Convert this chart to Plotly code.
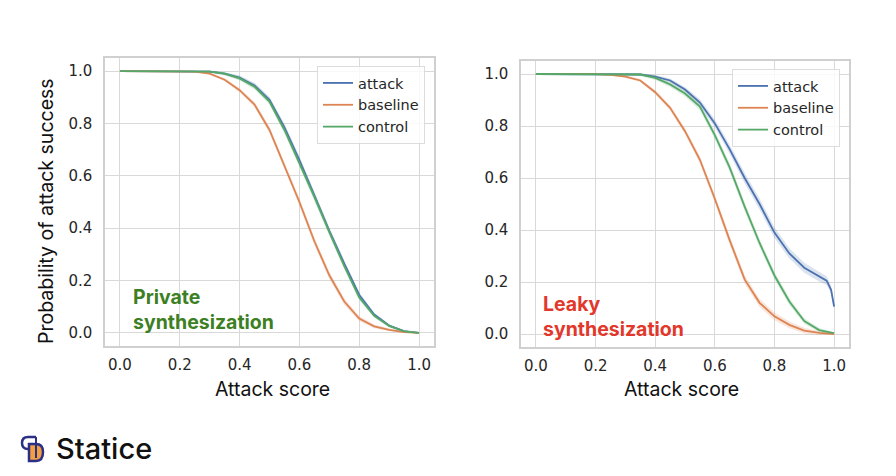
import plotly.graph_objects as go

# the page body keeps an 8px margin, so the figure is drawn 16px smaller
W, H = 896, 476
PAD = 8
FIG_W, FIG_H = W - 2 * PAD, H - 2 * PAD

# attack score thresholds
score = [0.0, 0.05, 0.1, 0.15, 0.2, 0.25, 0.3, 0.35, 0.4, 0.45, 0.5,
         0.55, 0.6, 0.65, 0.7, 0.75, 0.8, 0.85, 0.9, 0.95, 1.0]
score_tail = [0.0, 0.05, 0.1, 0.15, 0.2, 0.25, 0.3, 0.35, 0.4, 0.45, 0.5,
              0.55, 0.6, 0.65, 0.7, 0.75, 0.8, 0.85, 0.9, 0.95, 0.975, 0.99, 1.0]

# private synthesization
attack_private = [1.0, 1.0, 1.0, 1.0, 1.0, 1.0, 0.998, 0.99, 0.975, 0.945, 0.89,
                  0.785, 0.66, 0.525, 0.39, 0.265, 0.145, 0.07, 0.028, 0.007, 0.0]
baseline_private = [1.0, 1.0, 1.0, 1.0, 1.0, 0.998, 0.99, 0.967, 0.927, 0.872, 0.775,
                    0.64, 0.5, 0.35, 0.22, 0.12, 0.055, 0.025, 0.012, 0.003, 0.0]
control_private = [1.0, 1.0, 1.0, 1.0, 1.0, 1.0, 0.998, 0.99, 0.972, 0.94, 0.883,
                   0.775, 0.65, 0.52, 0.385, 0.255, 0.135, 0.065, 0.027, 0.006, 0.0]

# leaky synthesization
attack_leaky = [1.0, 1.0, 1.0, 1.0, 1.0, 1.0, 1.0, 0.998, 0.99, 0.975, 0.94,
                0.89, 0.81, 0.71, 0.6, 0.5, 0.39, 0.31, 0.255, 0.22, 0.205, 0.17, 0.105]
baseline_leaky = [1.0, 1.0, 1.0, 1.0, 1.0, 0.997, 0.99, 0.975, 0.93, 0.87, 0.78,
                  0.67, 0.52, 0.36, 0.21, 0.12, 0.068, 0.035, 0.013, 0.004, 0.0]
control_leaky = [1.0, 1.0, 1.0, 1.0, 1.0, 1.0, 1.0, 0.998, 0.985, 0.96, 0.925,
                 0.875, 0.765, 0.64, 0.49, 0.35, 0.225, 0.125, 0.05, 0.015, 0.003]

# confidence band half-widths
band_private = [0, 0, 0, 0, 0, 0.002, 0.004, 0.006, 0.008, 0.01, 0.012,
                0.014, 0.015, 0.015, 0.014, 0.012, 0.01, 0.007, 0.005, 0.003, 0]
band_leaky = [0, 0, 0, 0, 0, 0.002, 0.004, 0.006, 0.008, 0.01, 0.012,
              0.014, 0.016, 0.017, 0.017, 0.016, 0.015, 0.013, 0.011, 0.008, 0.003]
band_leaky_attack = [0, 0, 0, 0, 0, 0, 0.002, 0.004, 0.006, 0.008, 0.01,
                     0.013, 0.016, 0.018, 0.02, 0.021, 0.021, 0.02, 0.019, 0.018,
                     0.017, 0.015, 0.01]

BLUE, ORANGE, GREEN = "#4c72b0", "#dd8452", "#55a868"
FILLS = {BLUE: "rgba(76,114,176,0.2)", ORANGE: "rgba(221,132,82,0.2)",
         GREEN: "rgba(85,168,104,0.2)"}


def px_x(v):
    return (v - PAD) / FIG_W


def px_y(v):
    return 1 - (v - PAD) / FIG_H


fig = go.Figure()


def add_series(x, y, band, name, color, xa, ya, legend):
    upper = [a + b for a, b in zip(y, band)]
    lower = [a - b for a, b in zip(y, band)]
    fig.add_trace(go.Scatter(x=x + x[::-1], y=upper + lower[::-1], fill="toself",
                             fillcolor=FILLS[color], line=dict(width=0),
                             showlegend=False, hoverinfo="skip", xaxis=xa, yaxis=ya))
    fig.add_trace(go.Scatter(x=x, y=y, mode="lines", name=name,
                             line=dict(color=color, width=1.8),
                             xaxis=xa, yaxis=ya, legend=legend))


add_series(score, attack_private, band_private, "attack", BLUE, "x", "y", "legend")
add_series(score, baseline_private, band_private, "baseline", ORANGE, "x", "y", "legend")
add_series(score, control_private, band_private, "control", GREEN, "x", "y", "legend")

add_series(score_tail, attack_leaky, band_leaky_attack, "attack", BLUE, "x2", "y2", "legend2")
add_series(score, baseline_leaky, band_leaky, "baseline", ORANGE, "x2", "y2", "legend2")
add_series(score, control_leaky, band_leaky, "control", GREEN, "x2", "y2", "legend2")

tick_font = dict(family="DejaVu Sans", size=15, color="#262626")
ticks = [0.0, 0.2, 0.4, 0.6, 0.8, 1.0]
axis_common = dict(range=[-0.05, 1.05], tickvals=ticks,
                   ticktext=[f"{t:.1f}" for t in ticks],
                   showgrid=True, gridcolor="#d9d9d9", gridwidth=1,
                   showline=True, linecolor="#d0d0d0", linewidth=1.5, mirror=True,
                   zeroline=False, ticks="", tickfont=tick_font)

legend_common = dict(bgcolor="rgba(255,255,255,0.8)", bordercolor="#dcdcdc",
                     borderwidth=1, font=dict(family="DejaVu Sans", size=14.5, color="#262626"),
                     itemwidth=30, xanchor="left", yanchor="top",
                     tracegroupgap=0)

fig.update_layout(
    width=FIG_W, height=FIG_H,
    margin=dict(l=0, r=0, t=0, b=0),
    paper_bgcolor="white", plot_bgcolor="white",
    xaxis=dict(domain=[px_x(105), px_x(434)], anchor="y", ticklabelstandoff=4, **axis_common),
    yaxis=dict(domain=[px_y(346), px_y(58)], anchor="x", ticklabelstandoff=8, **axis_common),
    xaxis2=dict(domain=[px_x(521), px_x(849)], anchor="y2", ticklabelstandoff=4, **axis_common),
    yaxis2=dict(domain=[px_y(347), px_y(61)], anchor="x2", ticklabelstandoff=8, **axis_common),
    legend=dict(x=px_x(317), y=px_y(66), **legend_common),
    legend2=dict(x=px_x(732), y=px_y(69), **legend_common),
    showlegend=True,
)

title_font = dict(family="Inter", size=19.5, color="#111111")
annotations = [
    dict(text="Attack score", x=px_x(272), y=px_y(389), font=title_font),
    dict(text="Attack score", x=px_x(681), y=px_y(389), font=title_font),
    dict(text="Probability of attack success", x=px_x(46), y=px_y(211),
         textangle=-90, font=title_font),
    dict(text="<b>Private<br>synthesization</b>", x=px_x(131), y=px_y(309),
         xanchor="left", align="left",
         font=dict(family="Inter", size=19.5, color="#3d7f23")),
    dict(text="<b>Leaky<br>synthesization</b>", x=px_x(541), y=px_y(316),
         xanchor="left", align="left",
         font=dict(family="Inter", size=19.5, color="#e2372b")),
    dict(text="Statice", x=px_x(54), y=px_y(448), xanchor="left",
         font=dict(family="Inter", size=29, color="#111111", weight=500)),
]
for a in annotations:
    a.setdefault("xanchor", "center")
    a.update(xref="paper", yref="paper", yanchor="middle", showarrow=False)
    fig.add_annotation(**a)

# Statice logo mark
fig.add_shape(type="path", xref="paper", yref="paper",
              path=(f"M {px_x(36)},{px_y(437)} L {px_x(28)},{px_y(437)} "
                    f"Q {px_x(22)},{px_y(437)} {px_x(22)},{px_y(443)} "
                    f"Q {px_x(22)},{px_y(449)} {px_x(28)},{px_y(449)} "
                    f"L {px_x(31)},{px_y(449)}"),
              line=dict(color="#2b2f86", width=2.5))
fig.add_shape(type="path", xref="paper", yref="paper",
              path=(f"M {px_x(29)},{px_y(444)} L {px_x(36)},{px_y(444)} "
                    f"Q {px_x(43)},{px_y(444)} {px_x(43)},{px_y(452)} "
                    f"Q {px_x(43)},{px_y(461)} {px_x(36)},{px_y(461)} "
                    f"L {px_x(29)},{px_y(461)} Z"),
              fillcolor="#f0a040", line=dict(color="#2b2f86", width=2.5))
fig.add_shape(type="path", xref="paper", yref="paper",
              path=(f"M {px_x(36)},{px_y(437)} L {px_x(36)},{px_y(458)}"),
              line=dict(color="#2b2f86", width=2))

fig.write_html("out.html")
